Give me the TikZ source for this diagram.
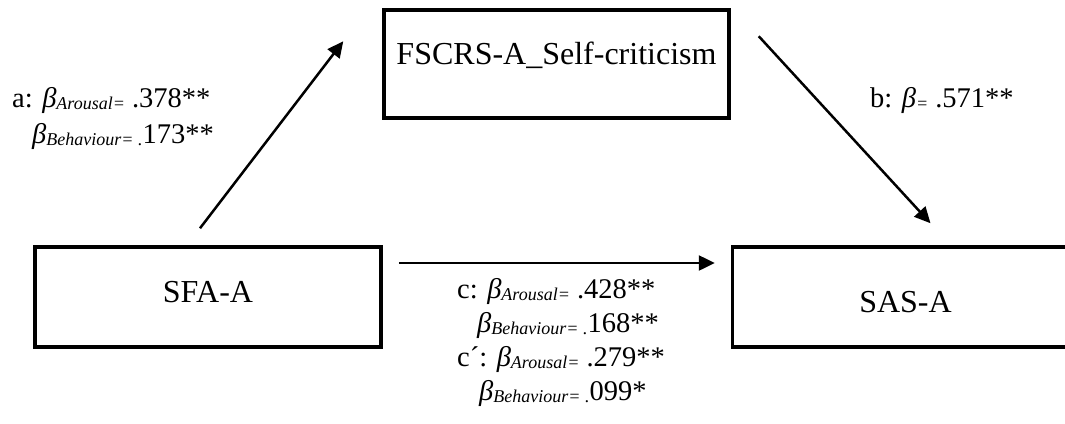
\documentclass[tikz,border=0pt]{standalone}
\usepackage{fontspec}
\setmainfont{Liberation Serif}
\usetikzlibrary{positioning,arrows.meta}
\newcommand{\bsub}[1]{\textit{β}\raisebox{-2pt}{\fontsize{18}{18}\selectfont\itshape #1}}
\tikzset{
    varbox/.style={draw, line width=3.5pt, minimum width=346pt, minimum height=100pt,
        inner sep=0pt, font=\fontsize{32}{38}\selectfont},
    path arrow/.style={line width=2.5pt, -{Triangle[length=16pt,width=15pt]}},
    coef/.style={align=left, inner sep=0pt, anchor=north west,
        font=\fontsize{28.5}{34}\selectfont}
}

\begin{document}
\begin{tikzpicture}[x=1pt,y=-1pt]
\useasboundingbox (0,0) rectangle (1065,423);

\node[varbox, minimum width=345pt, minimum height=108pt, text depth=21pt] (fscrs) at (556.5,64) {FSCRS-A\_Self-criticism};
\node[varbox, text depth=10pt] (sfa) at (208,297) {SFA-A};
\node[varbox, text height=32pt, right=348pt of sfa] (sas) {SAS-A};

\draw[path arrow] ([shift={(-8,-17)}]sfa.north) -- ([shift={(-39,33)}]fscrs.north west);
\draw[path arrow] ([shift={(28,28)}]fscrs.north east) -- ([shift={(25,-22)}]sas.north);
\draw[path arrow] ([shift={(16,-34)}]sfa.east) -- ([shift={(-16,-34)}]sas.west);

\node[coef] (coefa) at (12,87) {a: \bsub{Arousal=} .378**\\[2pt]
    \hspace*{20pt}\bsub{Behaviour= .}173**};
\node[coef] (coefb) at (870,87) {b: \bsub{=} .571**};
\node[coef] (coefc) at (457,278) {c: \bsub{Arousal=} .428**\\
    \hspace*{20pt}\bsub{Behaviour= .}168**\\
    c´: \bsub{Arousal=} .279**\\
    \hspace*{22pt}\bsub{Behaviour= .}099*};
\end{tikzpicture}
\end{document}
